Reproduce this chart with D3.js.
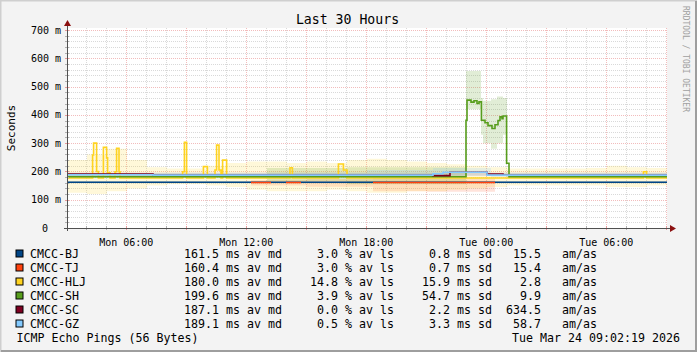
<!DOCTYPE html>
<html>
<head>
<meta charset="utf-8">
<script src="https://cdn.jsdelivr.net/npm/d3@7"></script>
<style>
  html, body { margin: 0; padding: 0; background: #f3f3f3; }
  svg { display: block; font-family: "DejaVu Sans Mono", monospace; }
</style>
</head>
<body>
<svg id="chart" width="697" height="352"></svg>
<script>
// ---- data: time in hours since graph start, values in ms ----
const startTime = new Date(2026, 2, 23, 3, 2, 19);
const spanHours = 30;

const hosts = ["CMCC-BJ", "CMCC-TJ", "CMCC-HLJ", "CMCC-SH", "CMCC-SC", "CMCC-GZ"];
const hostColors = ["#004586", "#ff420e", "#ffd320", "#579d1c", "#7e0021", "#83caff"];
const avgMedian = [161.5, 160.4, 180.0, 199.6, 187.1, 189.1];
const avgLoss = [3.0, 3.0, 14.8, 3.9, 0.0, 0.5];
const avgSd = [0.8, 0.7, 15.9, 54.7, 2.2, 3.3];
const avgAmas = [15.5, 15.4, 2.8, 9.9, 634.5, 58.7];

const yTickValues = [0, 100, 200, 300, 400, 500, 600, 700];

// median steps: [hour, ms] holds until next entry, null = no data
const medBJ = [[0, 161.5], [30, null]];
const medTJ = [[9.2, 161], [10.2, null], [10.95, 161], [11.7, null], [15.3, 161], [21.4, null]];
const medHLJ = [
  [0, 177], [1.28, 258], [1.33, 300], [1.48, 200], [1.57, 177],
  [1.82, 285], [1.98, 248], [2.03, 195], [2.15, 177],
  [2.4, 199], [2.48, 282], [2.6, 199], [2.65, 177],
  [5.78, 199], [5.87, 303], [5.98, 177],
  [6.82, 217], [7.02, 177],
  [7.4, 205], [7.48, 293], [7.6, 205], [7.7, 177], [7.78, 240], [7.98, 177],
  [11.15, 213], [11.27, 177],
  [13.57, 226], [13.82, 205], [14.0, 177],
  [28.82, 199], [28.98, 177], [30, null]
];
const medSH = [
  [0, 181], [19.95, 381], [20.0, 452], [20.2, 445], [20.35, 450], [20.5, 440],
  [20.6, 446], [20.72, 381], [20.9, 372], [21.05, 362], [21.25, 352], [21.4, 365],
  [21.55, 380], [21.65, 393], [21.75, 386], [21.8, 396], [21.98, 229], [22.1, 181], [30, null]
];
const medSC = [[0, 190.5], [4.3, 187], [18.3, 185], [19.15, 197], [21.0, 191], [21.8, 187], [30, null]];
const medGZ = [[0, 188], [4.3, 187], [18.3, 192], [18.8, 197], [21.0, 187], [30, null]];

// smoke envelopes: [hour, low ms, high ms]
const smokeBJ = [[0, 158, 166], [30, null, null]];
const smokeTJ = [[9.2, 150, 170], [12, 146, 172], [15.3, 130, 176], [18, 128, 175], [21.4, null, null]];
const smokeHLJ = [
  [0, 125, 240], [1, 120, 260], [2, 130, 280], [3, 140, 240], [4, 150, 215],
  [5, 155, 210], [6, 155, 210], [7, 150, 220], [8, 145, 230], [9, 135, 235],
  [10, 130, 235], [11, 130, 230], [12, 130, 235], [13, 135, 230], [14, 130, 240],
  [15, 125, 245], [16, 125, 240], [17, 130, 235], [18, 130, 230], [19, 135, 225],
  [20, 140, 220], [21, 145, 215], [22, 150, 210], [23, 150, 210], [24, 150, 210],
  [25, 150, 210], [26, 150, 212], [27, 145, 220], [28, 145, 215], [29, 150, 212], [30, null, null]
];
const smokeSH = [
  [0, 176, 188], [10, 165, 212], [14, 155, 215], [19.95, 420, 555], [20.7, 330, 460],
  [20.8, 300, 450], [21.2, 280, 455], [21.5, 300, 465], [21.8, 330, 460], [22.0, 176, 188], [30, null, null]
];
const smokeSC = [[0, 185, 195], [30, null, null]];
const smokeGZ = [[0, 182, 195], [15, 178, 205], [18.3, 185, 212], [21.2, 180, 195], [30, null, null]];

const medians = [medBJ, medTJ, medHLJ, medSH, medSC, medGZ];
const smokes = [smokeBJ, smokeTJ, smokeHLJ, smokeSH, smokeSC, smokeGZ];
const smokeOpacity = [0.15, 0.15, 0.17, 0.18, 0.12, 0.2];

// ---- layout ----
const W = 697, H = 352;
const plot = { left: 67, right: 667, top: 28, bottom: 228 };

const svg = d3.select("#chart");

const endTime = new Date(+startTime + spanHours * 3600e3);
const hourToDate = (h) => new Date(+startTime + h * 3600e3);

const x = d3.scaleTime().domain([startTime, endTime]).range([plot.left, plot.right]);
const y = d3.scaleLinear().domain([0, 700]).range([plot.bottom, 30]);

// background + frame
svg.append("rect").attr("width", W).attr("height", H).attr("fill", "#f3f3f3");
svg.append("path").attr("d", `M0.5,${H}V0.5H${W}`).attr("fill", "none").attr("stroke", "#cfcfcf").attr("stroke-width", 2);
svg.append("path").attr("d", `M1,${H - 1}H${W - 1}V1`).attr("fill", "none").attr("stroke", "#9e9e9e").attr("stroke-width", 2);

svg.append("rect")
  .attr("x", plot.left).attr("y", plot.top)
  .attr("width", plot.right - plot.left).attr("height", plot.bottom - plot.top)
  .attr("fill", "#ffffff");

// ---- grid ----
const grid = svg.append("g").attr("shape-rendering", "crispEdges");
const minorY = d3.range(20, 701, 20).filter((v) => v % 100 !== 0);
const majorY = yTickValues.filter((v) => v > 0);

grid.selectAll("line.ymin").data(minorY).join("line")
  .attr("x1", plot.left).attr("x2", plot.right)
  .attr("y1", (d) => Math.round(y(d)) + 0.5).attr("y2", (d) => Math.round(y(d)) + 0.5)
  .attr("stroke", "#d9d9d9").attr("stroke-dasharray", "1,1");

const hourTicks = d3.timeHour.every(1).range(startTime, endTime);
const major3 = hourTicks.filter((d) => d.getHours() % 3 === 0);
const minorX = hourTicks.filter((d) => d.getHours() % 3 !== 0);

grid.selectAll("line.xmin").data(minorX).join("line")
  .attr("x1", (d) => Math.round(x(d)) + 0.5).attr("x2", (d) => Math.round(x(d)) + 0.5)
  .attr("y1", plot.top).attr("y2", plot.bottom)
  .attr("stroke", "#d9d9d9").attr("stroke-dasharray", "1,1");

grid.selectAll("line.ymaj").data(majorY).join("line")
  .attr("x1", plot.left).attr("x2", plot.right)
  .attr("y1", (d) => Math.round(y(d)) + 0.5).attr("y2", (d) => Math.round(y(d)) + 0.5)
  .attr("stroke", "#f2bcbc").attr("stroke-dasharray", "1,1");

grid.selectAll("line.xmaj").data(major3).join("line")
  .attr("x1", (d) => Math.round(x(d)) + 0.5).attr("x2", (d) => Math.round(x(d)) + 0.5)
  .attr("y1", plot.top).attr("y2", plot.bottom)
  .attr("stroke", "#f2bcbc").attr("stroke-dasharray", "1,1");

// ---- helpers: step data -> explicit points ----
function stepLine(arr) {
  const pts = [];
  for (let i = 0; i < arr.length - 1; i++) {
    const [t, v] = arr[i];
    const t2 = arr[i + 1][0];
    if (v == null) { pts.push(null); continue; }
    pts.push([t, v], [t2, v]);
  }
  return pts;
}
function stepBand(arr) {
  const pts = [];
  for (let i = 0; i < arr.length - 1; i++) {
    const [t, lo, hi] = arr[i];
    const t2 = arr[i + 1][0];
    if (lo == null) { pts.push(null); continue; }
    pts.push([t, lo, hi], [t2, lo, hi]);
  }
  return pts;
}

const lineGen = d3.line()
  .defined((d) => d != null)
  .x((d) => x(hourToDate(d[0])))
  .y((d) => y(d[1]));

const areaGen = d3.area()
  .defined((d) => d != null)
  .x((d) => x(hourToDate(d[0])))
  .y0((d) => y(d[1]))
  .y1((d) => y(d[2]));

const dataG = svg.append("g");

// smoke first
smokes.forEach((s, i) => {
  dataG.append("path")
    .attr("d", areaGen(stepBand(s)))
    .attr("fill", hostColors[i])
    .attr("fill-opacity", smokeOpacity[i]);
});

// medians on top
medians.forEach((m, i) => {
  dataG.append("path")
    .attr("d", lineGen(stepLine(m)))
    .attr("fill", "none")
    .attr("stroke", hostColors[i])
    .attr("stroke-width", 1.6);
});

// ---- axes ----
const axisG = svg.append("g").attr("shape-rendering", "crispEdges");
axisG.selectAll("line.xt").data(hourTicks).join("line")
  .attr("x1", (d) => Math.round(x(d)) + 0.5).attr("x2", (d) => Math.round(x(d)) + 0.5)
  .attr("y1", plot.bottom - 2).attr("y2", plot.bottom + 2)
  .attr("stroke", (d) => d.getHours() % 3 === 0 ? "#e89a9a" : "#b0b0b0");
axisG.selectAll("line.yt").data(d3.range(20, 701, 20)).join("line")
  .attr("x1", plot.left - 2).attr("x2", plot.left + 2)
  .attr("y1", (d) => Math.round(y(d)) + 0.5).attr("y2", (d) => Math.round(y(d)) + 0.5)
  .attr("stroke", (d) => d % 100 === 0 ? "#e89a9a" : "#b0b0b0");

axisG.append("line")
  .attr("x1", plot.left - 3).attr("x2", plot.right + 4)
  .attr("y1", plot.bottom + 0.5).attr("y2", plot.bottom + 0.5)
  .attr("stroke", "#505050");
axisG.append("line")
  .attr("x1", plot.left + 0.5).attr("x2", plot.left + 0.5)
  .attr("y1", plot.bottom + 3).attr("y2", plot.top - 3)
  .attr("stroke", "#505050");
// arrows
svg.append("path")
  .attr("d", `M${plot.right + 3},${plot.bottom - 3} L${plot.right + 9},${plot.bottom + 0.5} L${plot.right + 3},${plot.bottom + 4} Z`)
  .attr("fill", "#8b1010");
svg.append("path")
  .attr("d", `M${plot.left - 3},${plot.top - 2} L${plot.left + 0.5},${plot.top - 8} L${plot.left + 4},${plot.top - 2} Z`)
  .attr("fill", "#8b1010");

// y labels
svg.append("g").selectAll("text").data(yTickValues).join("text")
  .attr("x", (d) => d === 0 ? 48 : 61)
  .attr("y", (d) => y(d) + 3.5)
  .attr("text-anchor", "end")
  .attr("font-size", 10)
  .attr("fill", "#000")
  .text((d) => d === 0 ? "0" : `${d} m`);

// x labels
const fmt = d3.timeFormat("%a %H:%M");
svg.append("g").selectAll("text").data(hourTicks.filter((d) => d.getHours() % 6 === 0)).join("text")
  .attr("x", (d) => x(d))
  .attr("y", 245.5)
  .attr("text-anchor", "middle")
  .attr("font-size", 10)
  .attr("fill", "#000")
  .text((d) => fmt(d));

// title and axis label
svg.append("text")
  .attr("x", 347.5).attr("y", 23.5)
  .attr("text-anchor", "middle")
  .attr("font-size", 13.2)
  .text("Last 30 Hours");

svg.append("text")
  .attr("transform", "translate(15,128) rotate(-90)")
  .attr("text-anchor", "middle")
  .attr("font-size", 11)
  .text("Seconds");

svg.append("text")
  .attr("transform", "translate(683,59) rotate(90)")
  .attr("text-anchor", "middle")
  .attr("font-size", 8)
  .attr("fill", "#a0a0a0")
  .text("RRDTOOL / TOBI OETIKER");

// ---- legend ----
const cw = 7.0;          // char advance at legend font size
const lx = 30;
const colX = (c) => lx + c * cw;
const legend = svg.append("g").attr("font-size", 11.63).attr("fill", "#000");

hosts.forEach((h, i) => {
  const cy = 254 + i * 14;
  const by = cy + 4;
  legend.append("rect")
    .attr("x", 16).attr("y", cy - 4)
    .attr("width", 7).attr("height", 7)
    .attr("fill", hostColors[i]).attr("stroke", "#000").attr("stroke-width", 1);
  legend.append("text").attr("x", colX(0)).attr("y", by).text(h);
  legend.append("text").attr("x", colX(27)).attr("y", by).attr("text-anchor", "end").text(avgMedian[i].toFixed(1));
  legend.append("text").attr("x", colX(28)).attr("y", by).text("ms av md");
  legend.append("text").attr("x", colX(44)).attr("y", by).attr("text-anchor", "end").text(avgLoss[i].toFixed(1));
  legend.append("text").attr("x", colX(45)).attr("y", by).text("% av ls");
  legend.append("text").attr("x", colX(60)).attr("y", by).attr("text-anchor", "end").text(avgSd[i].toFixed(1));
  legend.append("text").attr("x", colX(61)).attr("y", by).text("ms sd");
  legend.append("text").attr("x", colX(73)).attr("y", by).attr("text-anchor", "end").text(avgAmas[i].toFixed(1));
  legend.append("text").attr("x", colX(76)).attr("y", by).text("am/as");
});

legend.append("text").attr("x", 16.5).attr("y", 254 + 6 * 14 + 4).text("ICMP Echo Pings (56 Bytes)");
legend.append("text").attr("x", 680).attr("y", 254 + 6 * 14 + 4).attr("text-anchor", "end")
  .text(d3.timeFormat("%a %b %d %H:%M:%S %Y")(new Date(2026, 2, 24, 9, 2, 19)));
</script>
</body>
</html>
